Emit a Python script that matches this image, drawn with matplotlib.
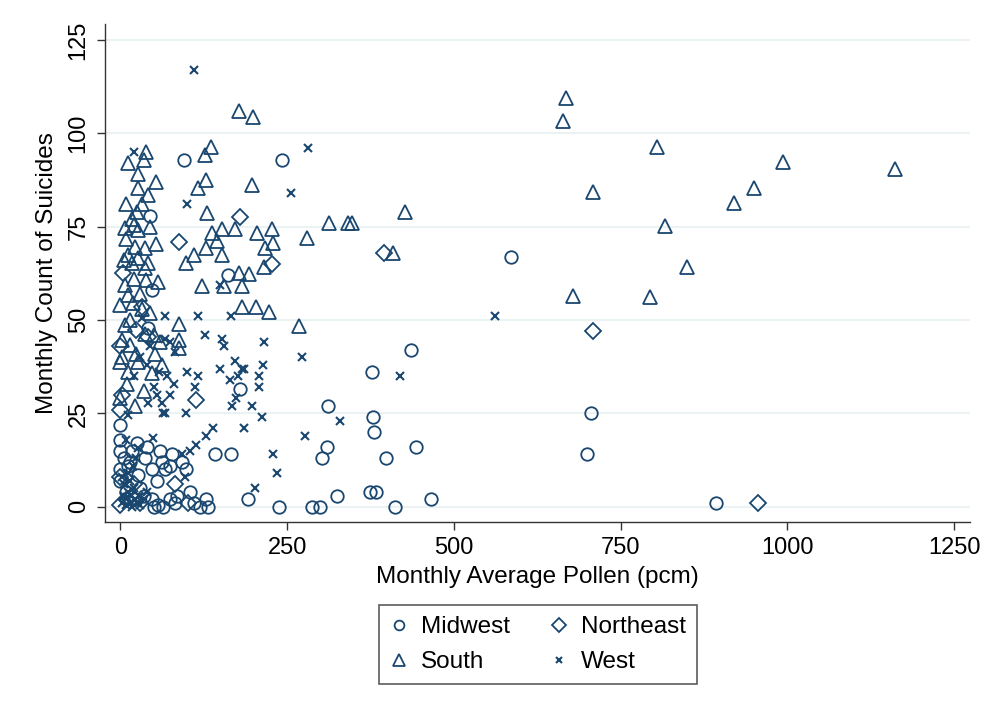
import matplotlib
matplotlib.use("Agg")
import matplotlib.pyplot as plt
from matplotlib.lines import Line2D

plt.rcParams['font.family'] = ['Liberation Sans', 'DejaVu Sans']

# pollen (pcm) and suicide counts per month, by census region
midwest_x = [243, 96, 44, 585, 161, 47, 42, 436, 378, 180, 312, 379, 706, 380, 310, 444,
             303, 398, 700, 142, 166, 93, 74, 325, 374, 384, 466, 287, 300, 412, 238, 893,
             192, 129, 132, 111, 50, 64, 82, 57, 47, 74, 0, 0, 0, 17, 37, 59, 47, 0, 0, 27,
             67, 12, 77, 99, 8, 20, 30, 15, 25, 35, 5, 40, 55, 62, 85, 120, 105]
midwest_y = [93, 93, 78, 67, 62, 58, 48, 42, 36, 31.5, 27, 24, 25, 20, 16, 16,
             13, 13, 14, 14, 14, 12, 11, 3, 4, 4, 2, 0, 0, 0, 0, 1,
             2, 2, 0, 1, 0, 0, 1, 0.5, 2, 2, 22, 18, 15, 15, 13, 15, 10, 10, 7, 8.5,
             10, 11, 14, 10, 4, 2, 5, 12, 17, 3, 13, 16, 7, 12, 3, 0, 4]

northeast_x = [179, 88, 395, 228, 4, 708, 114, 82, 102, 956, 32, 24, 0, 42, 0, 0, 0, 10,
               20, 30, 2]
northeast_y = [77.5, 71, 68, 65, 62.7, 47, 28.6, 6, 1, 1, 53.6, 47.3, 43, 45.5, 26, 0.5,
               8, 2, 6, 1, 30]

south_x = [178, 199, 668, 664, 804, 994, 1161, 950, 920, 817, 849, 794, 709, 679,
           136, 127, 129, 116, 198, 130, 137, 152, 172, 205, 228, 145, 217, 229, 128,
           110, 98, 153, 216, 178, 193, 122, 155, 182, 313, 341, 348, 427, 280, 409,
           268, 183, 203, 223, 88, 88, 88,
           38, 36, 11, 26, 54, 26, 41, 8, 33, 17, 21, 7, 27, 8, 54, 22, 37, 12, 27, 18,
           42, 37, 21, 7, 39, 57, 12, 0, 19, 32, 7, 37, 2, 14, 24, 52, 0, 27, 62, 12, 47,
           22, 0, 15, 45, 30, 5, 25, 45, 10, 35, 50, 60, 3]
south_y = [106, 104.5, 109.4, 103.3, 96.3, 92.3, 90.4, 85.4, 81.3, 75.3, 64.3, 56.3, 84.2, 56.4,
           96.4, 94.2, 87.5, 85.5, 86.1, 78.6, 73.2, 74.5, 74.3, 73.4, 74.3, 71.3, 69.2, 70.6, 69.4,
           67.4, 65.4, 67.4, 64.1, 62.5, 62.3, 59.2, 59.2, 59.2, 76, 76, 76, 79, 72, 68,
           48.5, 53.4, 53.4, 52.2, 49, 44.6, 42.4,
           95, 93, 92, 89, 87, 85.5, 83.5, 81, 81, 77, 75.5, 74.6, 74, 71.6, 70.4, 69.6, 69.2,
           67.4, 66.5, 65.2, 65.2, 64, 61, 59.4, 60.7, 60.3, 56.7, 54, 54.5, 53, 48.7, 46.4,
           44.6, 43.3, 41, 41, 38.8, 38.8, 38, 36, 35.7, 27, 29, 50, 52, 57, 66, 79, 75, 33,
           31, 46, 44, 40]

west_x = [110, 281, 256, 21, 100, 561, 272, 420, 330, 277, 67, 117, 166, 127, 153, 155,
          216, 67, 74, 172, 185, 182, 149, 214, 100, 116, 164, 177, 208, 208, 112, 174,
          168, 197, 212, 185, 99, 64, 139, 128, 114, 104, 92, 229, 235, 97, 202, 149,
          32, 82, 62, 67, 42, 12, 49, 9, 27,
          2, 5, 8, 10, 12, 14, 16, 18, 20, 6, 22, 25, 3, 28, 30, 15, 11, 35, 40, 19, 24,
          20, 30, 50, 40, 55, 70, 45, 58, 75, 80]
west_y = [117, 96, 84, 95, 81, 51, 40, 35, 23, 19, 51, 51, 51, 46, 45, 43,
          44, 45, 44, 39, 37, 37, 37, 38, 36, 35, 34, 35, 35, 32, 32, 29,
          27, 27, 24, 21, 25, 25, 21, 19, 16.5, 15, 14, 14, 9, 8, 5, 59.4,
          50.5, 41.5, 27.7, 25, 27.7, 24.6, 18.3, 18, 15.6,
          1, 3, 0.5, 2.5, 4, 1, 3, 0, 5, 6, 2, 1, 8, 3, 0.5, 7, 9, 2, 4, 11, 13,
          35, 40, 32, 38, 30, 35, 43, 36, 30, 33]

navy = '#1a476f'
grid_col = '#eaf2f3'

fig = plt.figure(figsize=(9.97, 7.08), dpi=100)
ax = fig.add_axes([0.1053, 0.2627, 0.8677, 0.7033])

ax.plot(midwest_x, midwest_y, linestyle='none', marker='o', ms=9, mfc='none',
        mec=navy, mew=1.3, label='Midwest')
ax.plot(northeast_x, northeast_y, linestyle='none', marker='D', ms=8.5, mfc='none',
        mec=navy, mew=1.3, label='Northeast')
ax.plot(south_x, south_y, linestyle='none', marker='^', ms=10.5, mfc='none',
        mec=navy, mew=1.3, label='South')
ax.plot(west_x, west_y, linestyle='none', marker='x', ms=6, mec=navy, mew=1.5,
        label='West')

ax.set_xlim(-23, 1274)
ax.set_ylim(-4.1, 129.3)
ax.set_xticks([0, 250, 500, 750, 1000, 1250])
ax.set_yticks([0, 25, 50, 75, 100, 125])
ax.set_yticklabels(['0', '25', '50', '75', '100', '125'], rotation=90, va='center')
ax.tick_params(labelsize=17, length=6, width=1, color='#333333', pad=5)

ax.grid(axis='y', color=grid_col, linewidth=1.5)
ax.set_axisbelow(True)
for side in ['top', 'right']:
    ax.spines[side].set_visible(False)
for side in ['left', 'bottom']:
    ax.spines[side].set_linewidth(1.0)
    ax.spines[side].set_color('#333333')

ax.set_xlabel('Monthly Average Pollen (pcm)', fontsize=17.5, labelpad=5)
ax.set_ylabel('Monthly Count of Suicides', fontsize=17.5, labelpad=7)

handles = [
    Line2D([], [], linestyle='none', marker='o', ms=7, mfc='none', mec=navy, mew=1.3),
    Line2D([], [], linestyle='none', marker='^', ms=8, mfc='none', mec=navy, mew=1.3),
    Line2D([], [], linestyle='none', marker='D', ms=7, mfc='none', mec=navy, mew=1.3),
    Line2D([], [], linestyle='none', marker='x', ms=5, mec=navy, mew=1.5),
]
labels = ['Midwest', 'South', 'Northeast', 'West']
leg = ax.legend(handles, labels, loc='upper center', bbox_to_anchor=(0.5, -0.167),
                borderaxespad=0, ncol=2, fontsize=17.5, frameon=True, fancybox=False,
                edgecolor='#333333', handlelength=0.8, handletextpad=0.5,
                columnspacing=1.6, labelspacing=0.55, borderpad=0.45)
leg.get_frame().set_linewidth(1.2)

fig.savefig('out.png', dpi=100)
